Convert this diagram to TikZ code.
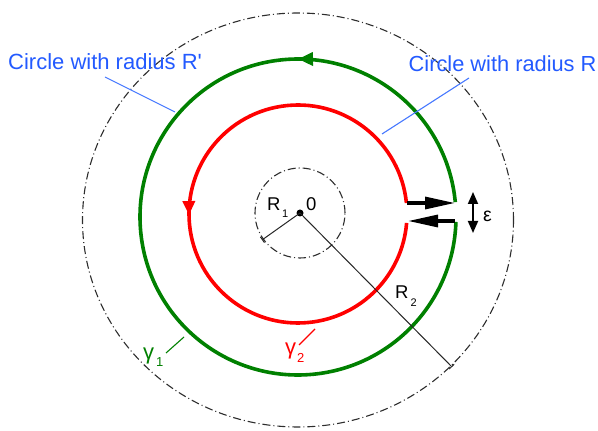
\documentclass[tikz,border=0pt]{standalone}
\usepackage{fontspec}
\setmainfont{Liberation Sans}
\usetikzlibrary{arrows.meta,decorations.markings}
\definecolor{lblblue}{RGB}{35,90,255}
\definecolor{leadblue}{RGB}{70,120,255}
\definecolor{cgreen}{RGB}{0,128,0}
\definecolor{cred}{RGB}{255,0,0}
\definecolor{dashgray}{RGB}{45,45,45}
\begin{document}
\begin{tikzpicture}[x=1pt,y=1pt,
  dashcirc/.style={draw=dashgray, line width=1.1pt, dash pattern=on 8pt off 3pt on 1pt off 3pt},
  gammaone/.style={draw=cgreen, line width=3.6pt, postaction={decorate},
    decoration={markings, mark=at position 0.2398 with {\arrow[cgreen]{Triangle[length=15pt,width=13pt]}}}},
  gammatwo/.style={draw=cred, line width=3.6pt, postaction={decorate},
    decoration={markings, mark=at position 0.5 with {\arrow[cred]{Triangle[length=14pt,width=12pt]}}}},
  gaparrow/.style={draw=black, line width=3.2pt, -{Triangle[length=30pt,width=12pt]}},
  epsarrow/.style={draw=black, line width=1.8pt, {Triangle[length=12pt,width=10pt]}-{Triangle[length=12pt,width=10pt]}},
  radline/.style={draw=black!85, line width=1pt, -{Bar[width=7pt,line width=1pt]}},
  leader/.style={line width=1.1pt},
  lbl/.style={inner sep=0pt, anchor=base west},
  dot/.style={circle, fill=black, inner sep=0pt, minimum size=7pt}
]
\useasboundingbox (0,0) rectangle (598,431);

% circles
\coordinate (oc) at (298,211);
\coordinate (gc) at (298,214);
\coordinate (rc) at (298,217);
\node[dot] (ctr) at (300,218) {};

\draw[dashcirc] (oc) ellipse [x radius=215.5, y radius=207];
\draw[dashcirc] (ctr.center) circle [radius=45];

% gamma curves
\draw[gammaone] (gc) ++(5.4:158) arc [start angle=5.4, end angle=358.2, radius=158];
\draw[gammatwo] (rc) ++(5.8:109) arc [start angle=5.8, end angle=355.3, radius=109];

% gap arrows
\coordinate (rU) at (407,228);
\coordinate (gU) at (455,228);
\coordinate (gL) at (455,210);
\coordinate (rL) at (408,210);
\draw[gaparrow] (rU) -- (gU);
\draw[gaparrow] (gL) -- (rL);

% epsilon arrow
\coordinate (eT) at (473,239);
\coordinate (eB) at (473,198);
\draw[epsarrow] (eT) -- (eB);
\node[lbl, font=\fontsize{19.5}{19.5}\selectfont] (eps) at (483,209) {ε};

% radii
\coordinate (r1end) at (262,191);
\coordinate (r2end) at (452,64);
\draw[radline] (ctr.center) -- (r1end);
\draw[radline] (ctr.center) -- (r2end);
\node[lbl, font=\fontsize{18.5}{18.5}\selectfont] (Rone) at (267,220) {R\kern1.5pt\raisebox{-7pt}{\fontsize{11}{11}\selectfont 1}};
\node[lbl, font=\fontsize{18.5}{18.5}\selectfont] (zero) at (306,220) {0};
\node[lbl, font=\fontsize{18.5}{18.5}\selectfont] (Rtwo) at (395,132) {R\kern2pt\raisebox{-8pt}{\fontsize{11}{11}\selectfont 2}};

% circle labels
\node[lbl, text=lblblue, font=\fontsize{22}{22}\selectfont] (lblRp) at (8,361) {Circle with radius R\textquotesingle};
\node[lbl, text=lblblue, font=\fontsize{21.8}{21.8}\selectfont] (lblR) at (408.5,359) {Circle with radius R};
\coordinate (lRpA) at (105,354);
\coordinate (lRpB) at (175,319);
\coordinate (lRA) at (469,353);
\coordinate (lRB) at (382,297);
\draw[leader, leadblue] (lRpA) -- (lRpB);
\draw[leader, leadblue] (lRA) -- (lRB);

% gamma labels
\node[lbl, text=cgreen, font=\fontsize{22}{22}\selectfont] (g1) at (143,71) {γ\kern2pt\raisebox{-7pt}{\fontsize{13}{13}\selectfont 1}};
\node[lbl, text=cred, font=\fontsize{22}{22}\selectfont] (g2) at (285,76) {γ\kern1pt\raisebox{-8pt}{\fontsize{13}{13}\selectfont 2}};
\coordinate (g1A) at (166,78);
\coordinate (g1B) at (184,94);
\coordinate (g2A) at (299,86);
\coordinate (g2B) at (315,102);
\draw[leader, cgreen] (g1A) -- (g1B);
\draw[leader, cred] (g2A) -- (g2B);
\end{tikzpicture}
\end{document}
